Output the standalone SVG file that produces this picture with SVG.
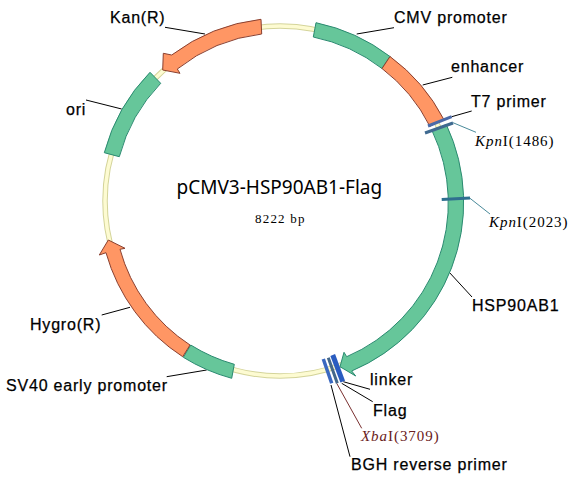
<svg xmlns="http://www.w3.org/2000/svg" width="575" height="482" viewBox="0 0 575 482">
<style>
.lab{font-family:"Liberation Sans",Arial,sans-serif;font-size:16px;letter-spacing:.8px;fill:#000;stroke:#000;stroke-width:.25px}
.site{font-family:"Liberation Serif","Times New Roman",serif;font-size:15px;letter-spacing:.95px}
.teal{fill:#66c69a;stroke:#2a8a70;stroke-width:1}
.orange{fill:#ff9664;stroke:#8a4030;stroke-width:1}
.lead{stroke:#000;stroke-width:1;fill:none}
</style>
<rect width="575" height="482" fill="#fff"/>
<g id="backbone" fill="none">
<circle cx="280" cy="201" r="175" stroke="#d4d49a" stroke-width="5.5"/>
<circle cx="280" cy="201" r="175" stroke="#fdfbd2" stroke-width="3.5"/>
</g>
<g id="connectors">
<path class="lead" d="M356.700 34L394 27.700"/>
<path class="lead" d="M422.700 85L452.300 77.300"/>
<path class="lead" d="M451.700 116.700L471.700 111"/>
<path class="lead" d="M449 272L472 297"/>
<path class="lead" d="M343.300 381.700L370 389.300"/>
<path class="lead" d="M341.700 383.300L372.700 401.700"/>
<path class="lead" d="M331 385L350 456.700"/>
<path class="lead" d="M165 27.300L205 34"/>
<path class="lead" d="M86 100L121.700 109"/>
<path class="lead" d="M101.700 315L130 307.300"/>
<path class="lead" d="M166.700 376.700L206.700 370"/>
<path d="M453 122.700L476 132.300" stroke="#4a8a9a" fill="none"/>
<path d="M470 198.300L490 214" stroke="#4a8a9a" fill="none"/>
<path d="M336.700 383.300L361.700 428.300" stroke="#7a3030" fill="none"/>
</g>
<g id="cmv-promoter"><path class="teal" d="M316 22.700A183 183 0 0 1 390 56.500L382 68.500A167.500 167.500 0 0 0 313.300 37Z"/><text class="lab" x="394" y="23">CMV promoter</text></g>
<g id="enhancer"><path class="orange" d="M390 56.500A183 183 0 0 1 443.800 119.400L429.900 126.300A167.500 167.500 0 0 0 382 68.500Z"/><text class="lab" x="451" y="72">enhancer</text></g>
<g id="hsp90ab1"><path class="teal" d="M446.300 124.500A183 183 0 0 1 351.700 371L355.700 376L340 366.700L344 352.300L346.700 356.700A167.500 167.500 0 0 0 432.200 131Z"/><text class="lab" x="472" y="311">HSP90AB1</text></g>
<g id="t7-primer"><path d="M451.700 116.700L428 126" stroke="#4a6aa8" stroke-width="3" fill="none"/><text class="lab" x="471" y="107">T7 primer</text></g>
<g id="kpni-1486"><path d="M453 123L425 133" stroke="#3f6a90" stroke-width="3" fill="none"/><text class="site" x="475" y="146"><tspan font-style="italic">Kpn</tspan>I(1486)</text></g>
<g id="kpni-2023"><path d="M441.700 199.500L470 198" stroke="#2f6f8f" stroke-width="3" fill="none"/><text class="site" x="489" y="227"><tspan font-style="italic">Kpn</tspan>I(2023)</text></g>
<g id="linker"><path d="M332.700 355L342.700 381.700" stroke="#2a5cc0" stroke-width="5" fill="none"/><text class="lab" x="370" y="384.500">linker</text></g>
<g id="flag"><text class="lab" x="373" y="416">Flag</text></g>
<g id="xbai-3709"><path d="M328.300 357.700L337.300 383.300" stroke="#44688a" stroke-width="3" fill="none"/><text class="site" x="361" y="441" fill="#6a2020"><tspan font-style="italic">Xba</tspan>I(3709)</text></g>
<g id="bgh-reverse-primer"><path d="M323.300 359L331.700 383.300" stroke="#3a68c0" stroke-width="3.500" fill="none"/><text class="lab" x="351" y="469.500">BGH reverse primer</text></g>
<g id="sv40"><path class="teal" d="M183.300 357.300A183 183 0 0 0 231.700 378.300L234.300 364.300A167.500 167.500 0 0 1 190.700 345Z"/><text class="lab" x="6" y="390.700">SV40 early promoter</text></g>
<g id="hygro"><path class="orange" d="M182.700 356.700A183 183 0 0 1 106 252.700L99.300 255L108.300 240L125 248.300L120 249.300A167.500 167.500 0 0 0 190 345Z"/><text class="lab" x="30" y="329.500">Hygro(R)</text></g>
<g id="ori"><path class="teal" d="M150 72.300A183 183 0 0 0 104.300 152.700L119.300 156.700A167.500 167.500 0 0 1 160.700 83.300Z"/><text class="lab" x="66" y="115">ori</text></g>
<g id="kan"><path class="orange" d="M261 19.300A183 183 0 0 0 171.700 55L163.300 53.300L162.700 70L180 73.300L177.300 69A167.500 167.500 0 0 1 261.700 34Z"/><text class="lab" x="110" y="23">Kan(R)</text></g>
<g id="title"><text x="176.500" y="194" font-family="'Noto Sans',sans-serif" font-size="19px">pCMV3-HSP90AB1-Flag</text><text x="255" y="223" font-family="'Liberation Serif',serif" font-size="13px" letter-spacing="1.2">8222 bp</text></g>
</svg>
